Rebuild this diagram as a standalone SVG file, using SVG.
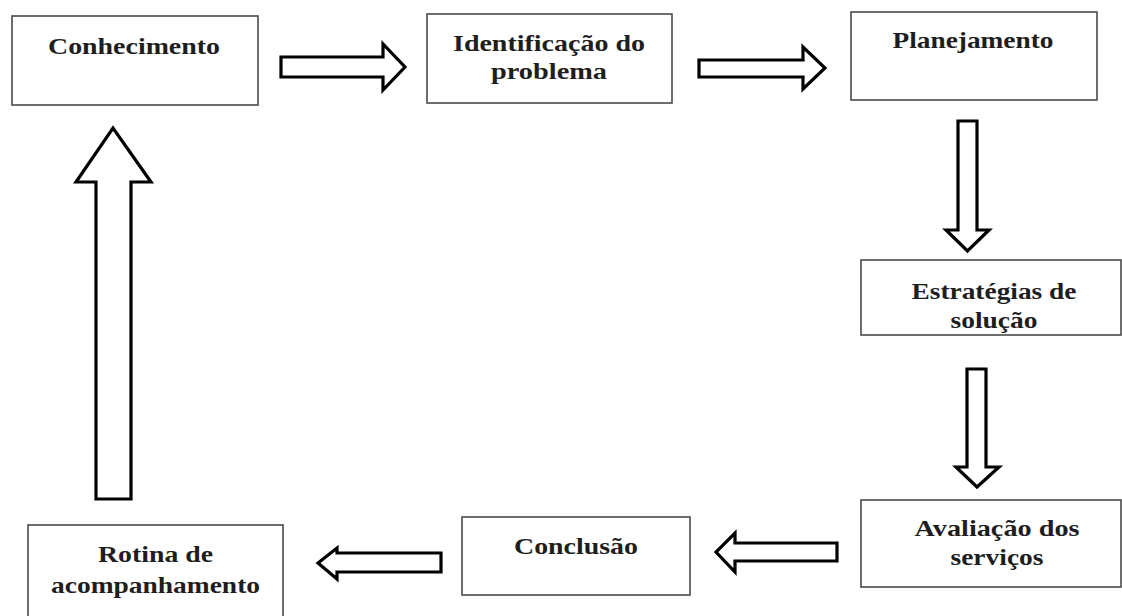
<svg xmlns="http://www.w3.org/2000/svg" width="1122" height="616" viewBox="0 0 1122 616">
<style>
.box{fill:#fff;stroke:#4a4a4a;stroke-width:1.6}
.lbl{font-family:"Liberation Serif","Times New Roman",serif;font-weight:bold;font-size:24px;fill:#1e1e1e;text-anchor:middle}
.arr{fill:#fff;stroke:#000;stroke-width:3.2;stroke-linejoin:miter}
</style>
<rect width="1122" height="616" fill="#fff"/>
<g id="connectors">
<polygon class="arr" points="281,57 383,57 383,44 405,67 383,90 383,77 281,77"/>
<polygon class="arr" points="699,60 803,60 803,47 825,68 803,89 803,77 699,77"/>
<polygon class="arr" points="958,121 977,121 977,230 989,230 967.5,251 946,230 958,230"/>
<polygon class="arr" points="967,369 986,369 986,467 999,467 977,487 956,467 967,467"/>
<polygon class="arr" points="837,543 837,561 735,561 735,572 716,552 735,533 735,543"/>
<polygon class="arr" points="441,553 441,572 337,572 337,579 318,563 337,548 337,553"/>
<polygon class="arr" points="96,499 131,499 131,182 151,182 113,128 76,182 96,182"/>
</g>
<g id="n1"><rect class="box" x="12" y="16" width="246" height="89"/><text class="lbl" x="134" y="54" textLength="172" lengthAdjust="spacingAndGlyphs">Conhecimento</text></g>
<g id="n2"><rect class="box" x="427" y="14" width="245" height="89"/><text class="lbl" x="549" y="51" textLength="192" lengthAdjust="spacingAndGlyphs">Identificação do</text><text class="lbl" x="549" y="79" textLength="116" lengthAdjust="spacingAndGlyphs">problema</text></g>
<g id="n3"><rect class="box" x="851" y="12" width="246" height="88"/><text class="lbl" x="973" y="48" textLength="161" lengthAdjust="spacingAndGlyphs">Planejamento</text></g>
<g id="n4"><rect class="box" x="861" y="260" width="260" height="75"/><text class="lbl" x="994" y="299" textLength="165" lengthAdjust="spacingAndGlyphs">Estratégias de</text><text class="lbl" x="994" y="328" textLength="87" lengthAdjust="spacingAndGlyphs">solução</text></g>
<g id="n5"><rect class="box" x="861" y="500" width="260" height="87"/><text class="lbl" x="997" y="536" textLength="165" lengthAdjust="spacingAndGlyphs">Avaliação dos</text><text class="lbl" x="997" y="565" textLength="93" lengthAdjust="spacingAndGlyphs">serviços</text></g>
<g id="n6"><rect class="box" x="462" y="517" width="228" height="78"/><text class="lbl" x="576" y="554" textLength="124" lengthAdjust="spacingAndGlyphs">Conclusão</text></g>
<g id="n7"><rect class="box" x="28" y="525" width="255" height="100"/><text class="lbl" x="155.5" y="562" textLength="115" lengthAdjust="spacingAndGlyphs">Rotina de</text><text class="lbl" x="155.5" y="593" textLength="209" lengthAdjust="spacingAndGlyphs">acompanhamento</text></g>
</svg>
